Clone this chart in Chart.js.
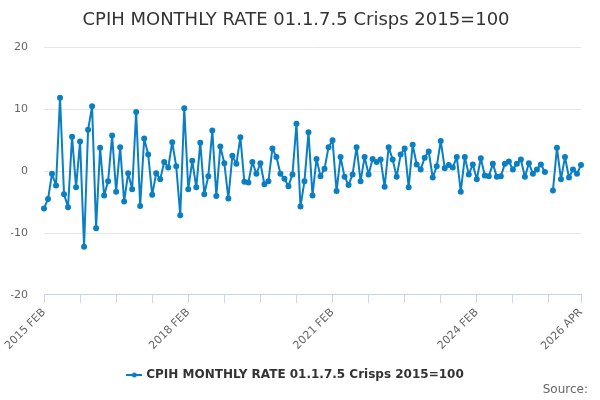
<!DOCTYPE html>
<html>
<head>
<meta charset="utf-8">
<script src="https://cdn.jsdelivr.net/npm/chart.js@4.4.1/dist/chart.umd.min.js"></script>
<style>
  html, body { margin: 0; padding: 0; background: #fff; }
  #wrap { width: 600px; height: 400px; position: relative; }
</style>
</head>
<body>
<div id="wrap"><canvas id="cpihChart"></canvas></div>
<script>
const seriesName = 'CPIH MONTHLY RATE 01.1.7.5 Crisps 2015=100';
const sourceText = 'Source:';
const monthNames = ['JAN', 'FEB', 'MAR', 'APR', 'MAY', 'JUN', 'JUL', 'AUG', 'SEP', 'OCT', 'NOV', 'DEC'];
const startYear = 2015;
const startMonth = 1; // FEB
const yTicks = [-20, -10, 0, 10, 20];

// monthly rate, Feb 2015 .. Apr 2026 (Oct 2025 missing)
const rates = [
    -6.0, -4.5, -0.4, -2.3, 11.9, -3.7, -5.8, 5.6, -2.6, 4.8, -12.2, 6.7,
    10.5, -9.2, 3.8, -3.9, -1.6, 5.8, -3.3, 3.9, -4.9, -0.3, -2.9, 9.6,
    -5.6, 5.3, 2.7, -3.8, -0.3, -1.3, 1.5, 0.6, 4.7, 0.8, -7.1, 10.2,
    -2.9, 1.7, -2.6, 4.6, -3.7, -0.8, 6.6, -4.0, 4.0, 1.3, -4.4, 2.5,
    1.2, 5.5, -1.7, -1.8, 1.5, -0.4, 1.3, -2.1, -1.6, 3.7, 2.3, -0.4,
    -1.2, -2.4, -0.5, 7.7, -5.7, -1.6, 6.3, -3.9, 2.0, -0.8, 0.4, 3.9,
    5.0, -3.2, 2.3, -0.9, -2.2, -0.5, 3.9, -1.6, 2.3, -0.5, 2.0, 1.5,
    1.9, -2.5, 3.9, 1.9, -0.9, 2.7, 3.7, -2.6, 4.3, 1.1, 0.3, 2.2,
    3.2, -1.0, 0.8, 4.9, 0.5, 1.0, 0.6, 2.3, -3.3, 2.3, -0.5, 1.1,
    -1.3, 2.1, -0.7, -0.8, 1.2, -0.9, -0.8, 1.2, 1.6, 0.3, 1.2, 1.9,
    -0.9, 1.3, -0.4, 0.3, 1.1, -0.1, null, -3.1, 3.8, -1.3, 2.3, -1.0,
    0.3, -0.4, 1.0
];

const months = rates.map((v, i) => {
    const m = startMonth + i;
    return (startYear + Math.floor(m / 12)) + ' ' + monthNames[m % 12];
});

const lineColor = '#0a7fc4';

// legend marker: line with a dot
const marker = document.createElement('canvas');
marker.width = 16;
marker.height = 8;
const mctx = marker.getContext('2d');
mctx.strokeStyle = lineColor;
mctx.lineWidth = 2;
mctx.beginPath();
mctx.moveTo(0, 4);
mctx.lineTo(16, 4);
mctx.stroke();
mctx.fillStyle = lineColor;
mctx.beginPath();
mctx.arc(8, 4, 2.5, 0, Math.PI * 2);
mctx.fill();

Chart.defaults.font.family = "'DejaVu Sans', sans-serif";

const lastIdx = months.length - 1;

// "Source:" note in the bottom-right corner
const sourceNote = {
    id: 'sourceNote',
    afterDraw(chart) {
        const ctx = chart.ctx;
        ctx.save();
        ctx.font = "12px 'DejaVu Sans', sans-serif";
        ctx.fillStyle = '#666';
        ctx.textAlign = 'right';
        ctx.textBaseline = 'middle';
        ctx.fillText(sourceText, 588, 390);
        ctx.restore();
    }
};

new Chart(document.getElementById('cpihChart'), {
    type: 'line',
    data: {
        labels: months,
        datasets: [{
            label: seriesName,
            data: rates,
            borderColor: lineColor,
            backgroundColor: lineColor,
            borderWidth: 2,
            borderJoinStyle: 'round',
            pointRadius: 2,
            pointHoverRadius: 3,
            tension: 0,
            spanGaps: false
        }]
    },
    options: {
        responsive: true,
        maintainAspectRatio: false,
        animation: false,
        layout: { padding: { left: 11, right: 19, top: 4, bottom: 9 } },
        plugins: {
            title: {
                display: true,
                text: seriesName,
                color: '#333',
                font: { size: 18, weight: 'normal' },
                padding: { top: 6, bottom: 16 }
            },
            legend: {
                position: 'bottom',
                labels: {
                    usePointStyle: true,
                    pointStyle: marker,
                    color: '#333',
                    font: { size: 12, weight: 'bold' },
                    padding: 13
                }
            }
        },
        scales: {
            x: {
                offset: false,
                afterFit: axis => { axis.paddingLeft = 0; axis.paddingRight = 0; },
                grid: {
                    drawOnChartArea: false,
                    drawTicks: true,
                    tickLength: 8,
                    color: '#ccd6eb'
                },
                border: { display: true, color: '#ccd6eb' },
                ticks: {
                    autoSkip: false,
                    maxRotation: 45,
                    minRotation: 45,
                    color: '#666',
                    font: { size: 11 },
                    padding: 3,
                    callback: function (val, idx) {
                        if (idx % 36 === 0 || idx === lastIdx) return months[idx];
                        if (idx % 9 === 0) return '';
                        return null;
                    }
                }
            },
            y: {
                min: yTicks[0],
                max: yTicks[yTicks.length - 1],
                afterBuildTicks: axis => { axis.ticks = yTicks.map(v => ({ value: v })); },
                afterFit: axis => { axis.width = 33; },
                grid: { color: '#e6e6e6', drawTicks: false },
                border: { display: false },
                ticks: {
                    color: '#666',
                    font: { size: 11 },
                    padding: 16
                }
            }
        }
    },
    plugins: [sourceNote]
});
</script>
</body>
</html>
